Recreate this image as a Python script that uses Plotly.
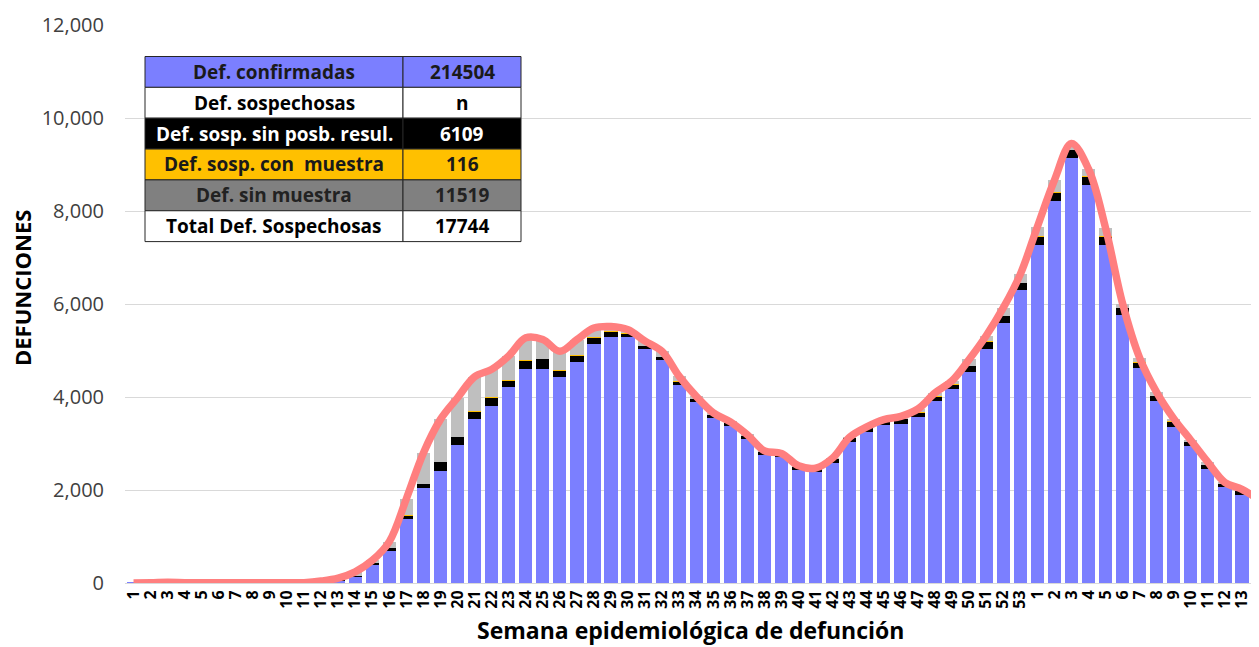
import plotly.graph_objects as go

# ---------------- data ----------------
semanas_2020 = [str(i) for i in range(1, 54)]
semanas_2021 = [str(i) for i in range(1, 15)]
week_labels = semanas_2020 + semanas_2021

# Def. confirmadas
confirmadas = [
    2, 5, 15, 8, 5, 4, 5, 8, 6, 5, 8, 25, 50, 140, 390, 690, 1380, 2045, 2415, 2975,
    3535, 3800, 4210, 4610, 4610, 4430, 4745, 5145, 5300, 5280,
    5040, 4800, 4255, 3885, 3550, 3370, 3095, 2760, 2710, 2440,
    2380, 2580, 3025, 3240, 3405, 3425, 3560, 3905, 4170, 4530,
    5030, 5590, 6310,
    7275, 8205, 9140, 8565, 7275, 5770, 4625, 3905, 3355, 2940, 2450, 2055, 1900, 1685]

# Def. sosp. sin posib. resultado
sin_posib = [
    0, 0, 0, 0, 0, 0, 0, 0, 0, 0, 0, 2, 5, 10, 35, 60, 70, 90, 190, 165,
    155, 195, 145, 180, 210, 140, 150, 135, 110, 95,
    65, 70, 80, 72, 70, 72, 72, 70, 65, 70,
    80, 92, 95, 95, 70, 108, 108, 108, 108, 145,
    165, 158, 145,
    180, 195, 178, 178, 180, 145, 120, 123, 120, 95, 92, 80, 85, 45]

# Def. sosp. con muestra
con_muestra = [
    0, 0, 0, 0, 0, 0, 0, 0, 0, 0, 0, 0, 0, 0, 0, 0, 2, 3, 4, 4,
    4, 4, 3, 3, 2, 2, 2, 2, 1, 1,
    1, 1, 1, 1, 1, 1, 1, 1, 1, 1,
    1, 1, 1, 1, 1, 1, 1, 1, 1, 2,
    2, 2, 2,
    2, 2, 2, 2, 2, 2, 2, 2, 3, 5, 6, 8, 10, 20]

# Def. sin muestra
sin_muestra = [
    0, 0, 0, 0, 0, 0, 0, 0, 0, 0, 0, 15, 50, 90, 60, 140, 360, 660, 910, 840,
    740, 595, 525, 480, 415, 410, 335, 200, 105, 70,
    95, 108, 107, 56, 37, 20, 15, 10, 10, 10,
    10, 15, 15, 20, 37, 50, 73, 73, 70, 130,
    120, 165, 180,
    200, 258, 130, 160, 180, 92, 94, 71, 58, 30, 50, 20, 20, 40]

# summary table
tabla_etiquetas = ["Def. confirmadas", "Def. sospechosas", "Def. sosp. sin posb. resul.",
                   "Def. sosp. con  muestra", "Def. sin muestra", "Total Def. Sospechosas"]
tabla_valores = ["214504", "n", "6109", "116", "11519", "17744"]
tabla_fondos = ["#7B7FFF", "#FFFFFF", "#000000", "#FFC000", "#808080", "#FFFFFF"]
tabla_texto = ["#1A1A1A", "#000000", "#FFFFFF", "#1A1A1A", "#222222", "#000000"]

# ---------------- figure ----------------
# the page body adds an 8px margin; offset the layout so the viewport matches
OFF = 8
VW, VH = 1259, 647
W, H = VW - OFF, VH - OFF
PLOT_L, PLOT_R, PLOT_T, PLOT_B = 125, 1259, 25, 583   # in viewport pixels
ML = PLOT_L - OFF
MT = PLOT_T - OFF
MR = (W + OFF) - PLOT_R
MB = (H + OFF) - PLOT_B
PW, PH = W - ML - MR, H - MT - MB
FONT = "Open Sans"

def px_x(p):
    return (p - PLOT_L) / PW

def px_y(p):
    return (PLOT_B - p) / PH

x = list(range(len(week_labels)))
total = [a + b + c + d for a, b, c, d in zip(confirmadas, sin_posib, con_muestra, sin_muestra)]

fig = go.Figure()
bar_w = 0.78
fig.add_bar(x=x, y=confirmadas, name="Def. confirmadas", marker_color="#7B7FFF",
            marker_line_width=0, width=bar_w)
fig.add_bar(x=x, y=sin_posib, name="Def. sosp. sin posb. resul.", marker_color="#000000",
            marker_line_width=0, width=bar_w)
fig.add_bar(x=x, y=con_muestra, name="Def. sosp. con muestra", marker_color="#FFC000",
            marker_line_width=0, width=bar_w)
fig.add_bar(x=x, y=sin_muestra, name="Def. sin muestra", marker_color="#BFBFBF",
            marker_line_width=0, width=bar_w)
fig.add_scatter(x=x, y=total, mode="lines", name="Total",
                line=dict(color="#FF7F7F", width=7.5, shape="spline", smoothing=1.0))

fig.update_layout(
    width=W, height=H, barmode="stack", showlegend=False,
    margin=dict(l=ML, r=MR, t=MT, b=MB, autoexpand=False),
    paper_bgcolor="white", plot_bgcolor="white",
    font=dict(family=FONT, color="#000000"),
)
fig.update_xaxes(
    range=[-0.5, 66.0], tickmode="array", tickvals=x, ticktext=week_labels,
    tickangle=-90, tickfont=dict(family=FONT, size=16, color="#000000", weight="bold"),
    showgrid=False, zeroline=False, showline=True, linecolor="#D9D9D9", linewidth=1,
    ticks="", automargin=False,
)
fig.update_yaxes(
    range=[0, 12000], dtick=2000, tickformat=",", showgrid=True, gridcolor="#D9D9D9",
    gridwidth=1, zeroline=False, showline=False, ticks="", ticklabelstandoff=20,
    tickfont=dict(family=FONT, size=20, color="#404040"), automargin=False,
)

# axis titles
fig.add_annotation(text="<b>DEFUNCIONES</b>", xref="paper", yref="paper",
                   x=px_x(22), y=px_y(288), textangle=-90, showarrow=False,
                   font=dict(family=FONT, size=22, color="#000000"),
                   xanchor="center", yanchor="middle")
fig.add_annotation(text="<b>Semana epidemiológica de defunción</b>", xref="paper", yref="paper",
                   x=px_x(690), y=px_y(630), showarrow=False,
                   font=dict(family=FONT, size=23, color="#000000"),
                   xanchor="center", yanchor="middle")

# summary table
tx0, tx1, tx2 = 145, 403, 521
ty0, row_h = 56.5, 30.85
shapes = []
for i, (lab, val, bg, fg) in enumerate(zip(tabla_etiquetas, tabla_valores, tabla_fondos, tabla_texto)):
    y0 = ty0 + i * row_h
    y1 = y0 + row_h
    for (a, b) in ((tx0, tx1), (tx1, tx2)):
        shapes.append(dict(type="rect", xref="paper", yref="paper",
                           x0=px_x(a), x1=px_x(b), y0=px_y(y1), y1=px_y(y0),
                           fillcolor=bg, line=dict(color="#262626", width=1), layer="above"))
    fig.add_annotation(text="<b>" + lab + "</b>", xref="paper", yref="paper",
                       x=px_x((tx0 + tx1) / 2), y=px_y((y0 + y1) / 2), showarrow=False,
                       font=dict(family=FONT, size=19, color=fg),
                       xanchor="center", yanchor="middle")
    fig.add_annotation(text="<b>" + val + "</b>", xref="paper", yref="paper",
                       x=px_x((tx1 + tx2) / 2), y=px_y((y0 + y1) / 2), showarrow=False,
                       font=dict(family=FONT, size=19, color=fg),
                       xanchor="center", yanchor="middle")
fig.update_layout(shapes=shapes)

fig.write_html("out.html")
